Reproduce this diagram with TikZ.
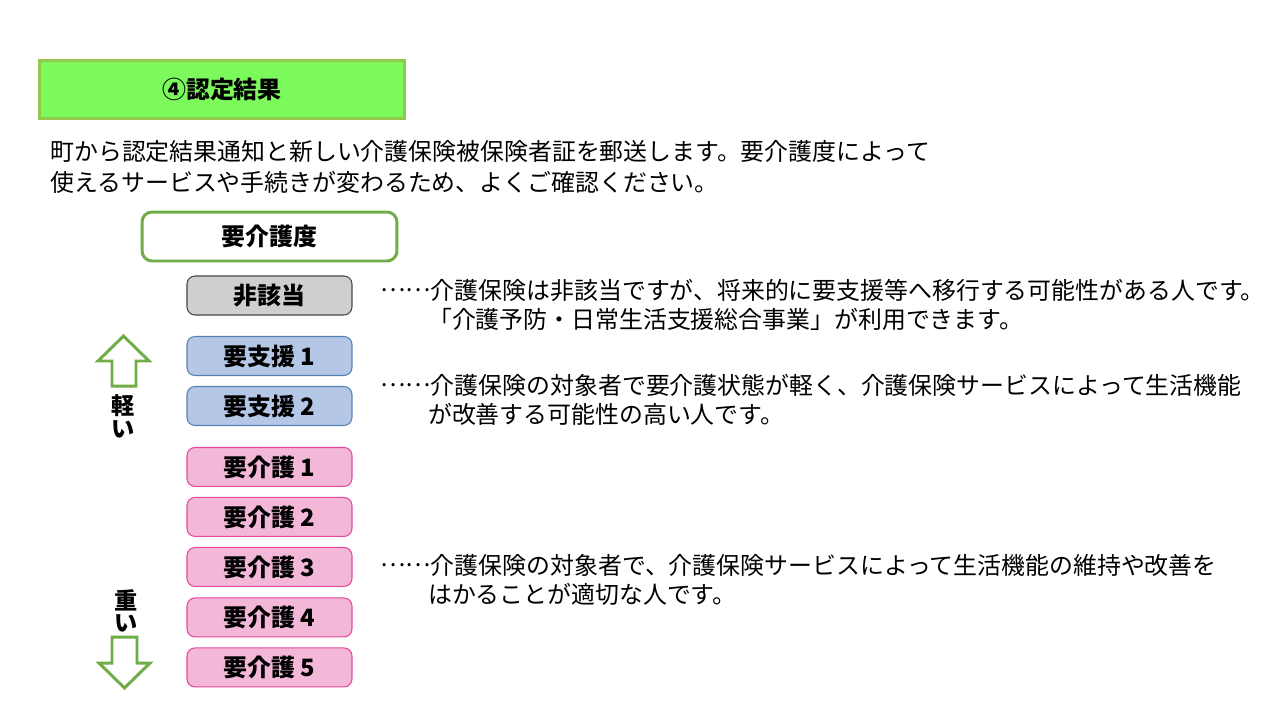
\documentclass[tikz,border=0pt]{standalone}
\usepackage{fontspec}
\setmainfont{Noto Sans CJK JP}
\usetikzlibrary{arrows}

\definecolor{titlefill}{RGB}{124,250,92}
\definecolor{titleline}{RGB}{146,200,76}
\definecolor{leafgreen}{RGB}{112,173,71}
\definecolor{grayfill}{RGB}{208,206,206}
\definecolor{grayline}{RGB}{70,70,70}
\definecolor{bluefill}{RGB}{180,199,231}
\definecolor{blueline}{RGB}{84,130,180}
\definecolor{pinkfill}{RGB}{243,183,215}
\definecolor{pinkline}{RGB}{230,72,160}

\newcommand{\dotlead}{\raisebox{0.3em}{……}}

\tikzset{
  level/.style={draw,rounded corners=0.16cm,line width=0.6pt,minimum width=3.3cm,
    minimum height=0.78cm,inner sep=0pt,font=\bfseries\fontsize{13.6pt}{16pt}\selectfont},
  none/.style={level,fill=grayfill,draw=grayline},
  support/.style={level,fill=bluefill,draw=blueline},
  care/.style={level,fill=pinkfill,draw=pinkline},
  note/.style={anchor=base west,inner sep=0pt,align=left,
    font=\fontsize{13.6pt}{16.5pt}\selectfont}
}

\begin{document}
\begin{tikzpicture}[x=0.02cm,y=-0.02cm,node distance=1cm]
	\useasboundingbox[fill=white] (0,0) rectangle (1280,720);

	\node[draw=titleline,fill=titlefill,line width=1.7pt,minimum width=7.3cm,minimum height=1.16cm,
	  font=\bfseries\fontsize{13.6pt}{16pt}\selectfont] (title) at (222,89.5) {④認定結果};
	\node[note,font=\fontsize{13.6pt}{17.1pt}\selectfont] (intro) at (50,191)
	  {町から認定結果通知と新しい介護保険被保険者証を郵送します。要介護度によって\\
	   使えるサービスや手続きが変わるため、よくご確認ください。};

	\node[draw=leafgreen,line width=1.7pt,rounded corners=0.2cm,minimum width=5.1cm,minimum height=0.98cm,
	  font=\bfseries\fontsize{13.6pt}{16pt}\selectfont] (degree) at (269.5,236.5) {要介護度};

	\node[none]    (none)  at (269.5,295.5) {非該当};
	\node[support] (s1) [below of=none,node distance=1.21cm] {要支援 1};
	\node[support] (s2) [below of=s1] {要支援 2};
	\node[care]    (c1) [below of=s2,node distance=1.22cm] {要介護 1};
	\node[care]    (c2) [below of=c1] {要介護 2};
	\node[care]    (c3) [below of=c2] {要介護 3};
	\node[care]    (c4) [below of=c3,node distance=1.01cm] {要介護 4};
	\node[care]    (c5) [below of=c4] {要介護 5};

	% notes
	\node[note] (nonenote) at (380,328)
	  {\dotlead 介護保険は非該当ですが、将来的に要支援等へ移行する可能性がある人です。\\
	   \hspace*{2em}「介護予防・日常生活支援総合事業」が利用できます。};
	\node[note] (supnote) at (380,423)
	  {\dotlead 介護保険の対象者で要介護状態が軽く、介護保険サービスによって生活機能\\
	   \hspace*{2em}が改善する可能性の高い人です。};
	\node[note] (carenote) at (380,603)
	  {\dotlead 介護保険の対象者で、介護保険サービスによって生活機能の維持や改善を\\
	   \hspace*{2em}はかることが適切な人です。};

	% light / heavy
	\draw[leafgreen,line width=1.7pt,line join=miter]
	  (123.5,336) -- (149,361) -- (136,361) -- (136,386) -- (112,386) -- (112,361) -- (98,361) -- cycle;
	\node[align=center,inner sep=0pt,font=\bfseries\fontsize{13.2pt}{13.1pt}\selectfont] (light) at (123,416) {軽\\い};
	\node[align=center,inner sep=0pt,font=\bfseries\fontsize{13.2pt}{12.6pt}\selectfont] (heavy) at (126,611) {重\\い};
	\draw[leafgreen,line width=1.7pt,line join=miter]
	  (112,637) -- (137,637) -- (137,663) -- (150,663) -- (124.5,688) -- (99,663) -- (112,663) -- cycle;
\end{tikzpicture}
\end{document}
